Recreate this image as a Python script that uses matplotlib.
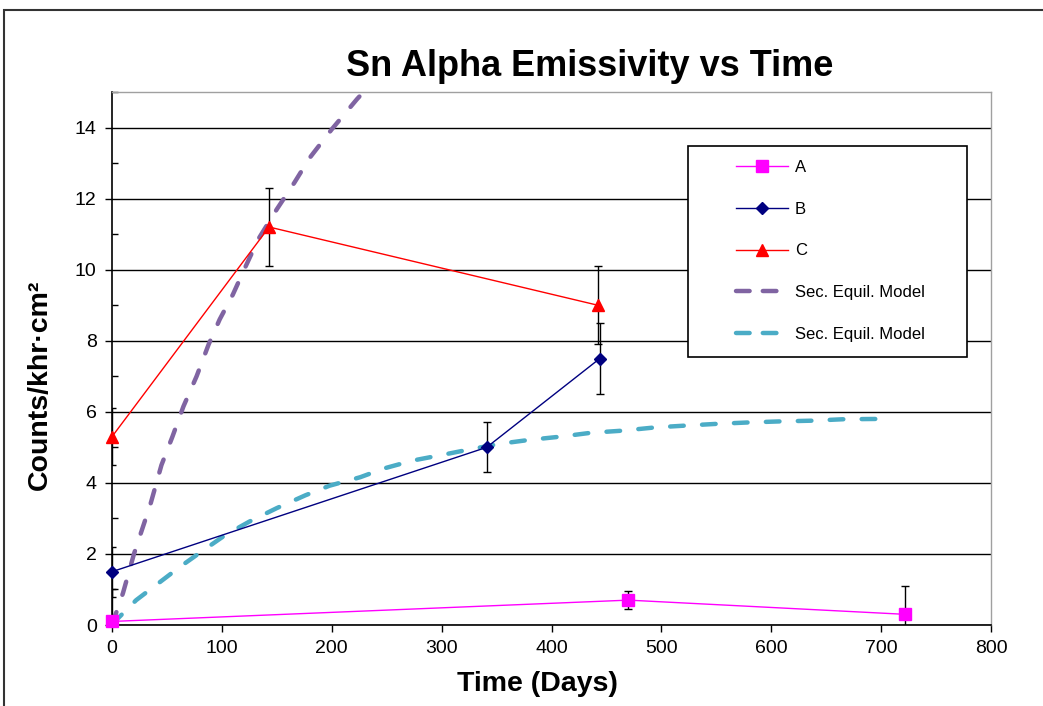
import matplotlib
matplotlib.use("Agg")
import matplotlib.pyplot as plt
from matplotlib.patches import Rectangle
from matplotlib.ticker import MultipleLocator
from matplotlib.lines import Line2D

plt.rcParams['font.family'] = ['Liberation Sans', 'DejaVu Sans']
plt.rcParams['lines.scale_dashes'] = False

# ---- data ----
a_days = [0, 470, 722]
a_vals = [0.1, 0.7, 0.3]
a_err = [0.9, 0.25, 0.8]

b_days = [0, 341, 444]
b_vals = [1.5, 5.0, 7.5]
b_err = [0.7, 0.7, 1.0]

c_days = [0, 143, 442]
c_vals = [5.3, 11.2, 9.0]
c_err = [0.8, 1.1, 1.1]

purple_days = [0, 10, 20, 35, 45, 55, 65, 77, 88, 98, 110, 121, 133, 150, 166, 180, 200, 223, 232, 240]
purple_vals = [0, 0.9, 2.0, 3.4, 4.5, 5.3, 6.15, 7.0, 7.9, 8.6, 9.3, 10.05, 10.85, 11.7, 12.45, 13.15, 13.95, 14.8, 15.1, 15.4]

cyan_days = [0, 22, 42, 62, 83, 103, 125, 150, 176, 198, 226, 248, 274, 301, 327, 353, 380, 408, 436,
             465, 494, 521, 550, 579, 608, 637, 665, 700]
cyan_vals = [0.02, 0.7, 1.17, 1.64, 2.1, 2.53, 2.91, 3.29, 3.65, 3.92, 4.16, 4.41, 4.63, 4.79, 4.95, 5.1, 5.21, 5.3, 5.41,
             5.47, 5.56, 5.61, 5.66, 5.7, 5.73, 5.75, 5.79, 5.8]

x_ticks = [0, 100, 200, 300, 400, 500, 600, 700, 800]
y_ticks = [0, 2, 4, 6, 8, 10, 12, 14]

title = "Sn Alpha Emissivity vs Time"
xlabel = "Time (Days)"
ylabel = "Counts/khr·cm²"
legend_labels = ["A", "B", "C", "Sec. Equil. Model", "Sec. Equil. Model"]

# ---- style ----
W, H = 1043, 706
fig = plt.figure(figsize=(W / 100, H / 100), dpi=100)
ax = fig.add_axes([112 / W, 1 - 625 / H, (991 - 112) / W, (625 - 92) / H])

purple = '#8064A2'
cyan = '#4BACC6'
dash = (9.8, 13.2)

ax.plot(purple_days, purple_vals, color=purple, lw=3.2, dashes=dash,
        dash_capstyle='round', zorder=3)
ax.plot(cyan_days, cyan_vals, color=cyan, lw=3.2, dashes=dash,
        dash_capstyle='round', zorder=3)

ekw = dict(ecolor='black', elinewidth=1.0, capsize=3, capthick=1.0, zorder=4)
ax.errorbar(a_days, a_vals, yerr=a_err, fmt='none', **ekw)
ax.errorbar(b_days, b_vals, yerr=b_err, fmt='none', **ekw)
ax.errorbar(c_days, c_vals, yerr=c_err, fmt='none', **ekw)

ax.plot(a_days, a_vals, color='#FF00FF', lw=1.0, marker='s', ms=8, zorder=5, clip_on=False)
ax.plot(b_days, b_vals, color='#000080', lw=1.0, marker='D', ms=6.5, zorder=5, clip_on=False)
ax.plot(c_days, c_vals, color='#FF0000', lw=1.0, marker='^', ms=9, zorder=5, clip_on=False)

ax.set_xlim(0, 800)
ax.set_ylim(0, 15)
ax.set_xticks(x_ticks)
ax.set_yticks(y_ticks)
ax.yaxis.set_minor_locator(MultipleLocator(1))
ax.tick_params(axis='both', which='major', direction='out', length=5, width=1.0,
               labelsize=14, colors='black', pad=6)
ax.tick_params(axis='y', which='minor', direction='in', length=4, width=1.0)
ax.grid(axis='y', which='major', color='black', lw=1.0, zorder=1)
ax.set_axisbelow(True)

for s in ['top', 'right']:
    ax.spines[s].set_color('#a0a0a0')
    ax.spines[s].set_linewidth(1.0)
for s in ['left', 'bottom']:
    ax.spines[s].set_color('black')
    ax.spines[s].set_linewidth(1.2)

fig.text(590 / W, 1 - 66 / H, title, ha='center', va='center',
         fontsize=26, fontweight='bold')
fig.text(537 / W, 1 - 684 / H, xlabel, ha='center', va='center',
         fontsize=20.5, fontweight='bold')
fig.text(40 / W, 1 - 385 / H, ylabel, ha='center', va='center', rotation=90,
         fontsize=20.5, fontweight='bold')

# legend box
fig.patches.append(Rectangle((688 / W, 1 - 357 / H), (967 - 688) / W, (357 - 146) / H,
                             transform=fig.transFigure, fill=True, facecolor='white',
                             edgecolor='black', lw=1.2, zorder=10))
handles = [
    Line2D([], [], color='#FF00FF', lw=1.0, marker='s', ms=8),
    Line2D([], [], color='#000080', lw=1.0, marker='D', ms=6.5),
    Line2D([], [], color='#FF0000', lw=1.0, marker='^', ms=9),
    Line2D([], [], color=purple, lw=3.2, dashes=(9.8, 9.5), dash_capstyle='round'),
    Line2D([], [], color=cyan, lw=3.2, dashes=(9.8, 9.5), dash_capstyle='round'),
]
leg = fig.legend(handles, legend_labels, loc='upper left',
                 bbox_to_anchor=(736 / W, 1 - 160 / H), bbox_transform=fig.transFigure,
                 frameon=False, fontsize=12, handlelength=3.1, handletextpad=0.42,
                 labelspacing=1.6, borderpad=0, borderaxespad=0)
leg.set_zorder(11)

# outer border
fig.patches.append(Rectangle((4 / W, -0.05), 1.1, 1.05 - 10 / H,
                             transform=fig.transFigure, fill=False,
                             edgecolor='#333333', lw=1.5))

fig.savefig('out.png', dpi=100)
